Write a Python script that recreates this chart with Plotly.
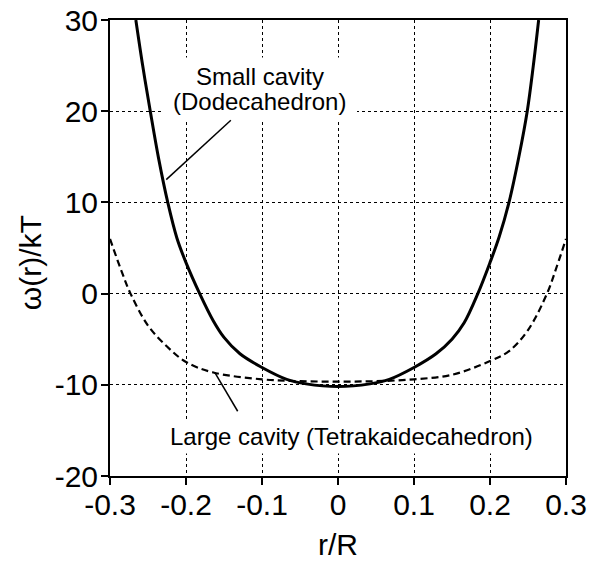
import plotly.graph_objects as go

# Small cavity (Dodecahedron) - solid
small_x = [-0.266, -0.257, -0.247, -0.236, -0.224, -0.212, -0.2, -0.182, -0.164, -0.15,
           -0.129, -0.1, -0.0675, -0.042, 0.0, 0.042, 0.0675, 0.1, 0.129, 0.15,
           0.166, 0.184, 0.2, 0.212, 0.225, 0.238, 0.249, 0.257, 0.264]
small_y = [30, 25, 20, 14.8, 10, 6.1, 3.4, 0, -3.0, -4.8,
           -6.6, -8.1, -9.4, -9.9, -10.2, -9.9, -9.4, -8.1, -6.6, -5.0,
           -3.2, 0, 3.4, 6.2, 10, 15, 20, 25, 30]

# Large cavity (Tetrakaidecahedron) - dashed
large_x = [-0.3, -0.285, -0.273, -0.25, -0.225, -0.2, -0.164, -0.1, -0.05, 0.0,
           0.05, 0.1, 0.15, 0.2, 0.225, 0.25, 0.275, 0.288, 0.3]
large_y = [6.0, 2.5, 0, -3.5, -5.8, -7.5, -8.65, -9.4, -9.6, -9.65,
           -9.6, -9.4, -8.9, -7.4, -6.3, -4.0, 0, 3.0, 6.0]

x_ticks = [-0.3, -0.2, -0.1, 0, 0.1, 0.2, 0.3]
x_labels = ["-0.3", "-0.2", "-0.1", "0", "0.1", "0.2", "0.3"]
y_ticks = [-20, -10, 0, 10, 20, 30]
y_labels = ["-20", "-10", "0", "10", "20", "30"]

FONT = "Liberation Sans, Arial, Helvetica, sans-serif"

fig = go.Figure()
fig.add_trace(go.Scatter(x=small_x, y=small_y, mode="lines",
                         line=dict(color="black", width=3, shape="spline", smoothing=1.0),
                         showlegend=False))
fig.add_trace(go.Scatter(x=large_x, y=large_y, mode="lines",
                         line=dict(color="black", width=2.2, dash="7px,4px", shape="spline", smoothing=1.0),
                         showlegend=False))

# white box behind "Small cavity (Dodecahedron)" label
fig.add_shape(type="rect", xref="x", yref="y", layer="between",
              x0=-0.23, x1=0.025, y0=19.1, y1=25.9,
              fillcolor="white", line=dict(width=0))
fig.add_annotation(x=-0.103, y=23.8, text="Small cavity", showarrow=False,
                   font=dict(family=FONT, size=24, color="black"))
fig.add_annotation(x=-0.103, y=21.05, text="(Dodecahedron)", showarrow=False,
                   font=dict(family=FONT, size=24, color="black"))
fig.add_annotation(x=0.018, y=-15.7, text="Large cavity (Tetrakaidecahedron)", showarrow=False,
                   font=dict(family=FONT, size=24, color="black"),
                   bgcolor="white", borderpad=3)

# y axis title
fig.add_annotation(xref="paper", yref="paper", x=-0.175, y=0.467, text="ω(r)/kT",
                   xanchor="center", yanchor="middle",
                   showarrow=False, textangle=-90,
                   font=dict(family=FONT, size=30, color="black"))

# pointer lines
fig.add_shape(type="line", xref="x", yref="y", x0=-0.226, y0=12.5, x1=-0.141, y1=19.0,
              line=dict(color="black", width=1.5))
fig.add_shape(type="line", xref="x", yref="y", x0=-0.162, y0=-8.66, x1=-0.132, y1=-12.9,
              line=dict(color="black", width=1.5))

axis_common = dict(
    showline=True, linecolor="black", linewidth=2, mirror=True,
    ticks="outside", ticklen=7, tickwidth=1.5, tickcolor="black",
    showgrid=True, gridcolor="black", gridwidth=1, griddash="dot",
    zeroline=False, automargin=False,
    tickfont=dict(family=FONT, size=30, color="black"),
)

fig.update_xaxes(range=[-0.3, 0.3], tickvals=x_ticks, ticktext=x_labels,
                 ticklabelstandoff=-6,
                 title=dict(text="r/R", font=dict(family=FONT, size=30, color="black"), standoff=14),
                 **axis_common)
fig.update_yaxes(range=[-20, 30], tickvals=y_ticks, ticktext=y_labels,
                 ticklabelstandoff=-3,
                 **axis_common)

fig.update_layout(
    width=598, height=564,
    margin=dict(l=110, r=32, t=20, b=88, pad=0),
    plot_bgcolor="white", paper_bgcolor="white",
)

fig.write_html("out.html")
